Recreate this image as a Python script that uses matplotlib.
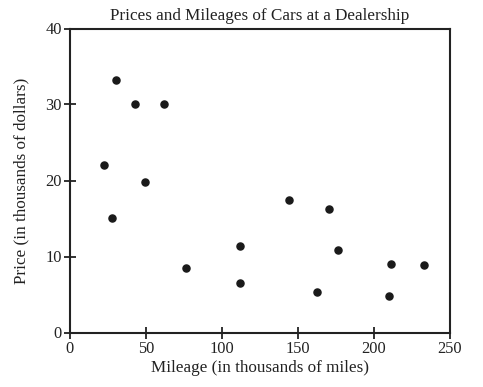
import matplotlib
matplotlib.use("Agg")
import matplotlib.pyplot as plt

mileage = [30.0, 42.5, 61.8, 22.4, 49.3, 27.4, 76.3, 112.1, 111.6,
           144.3, 170.2, 176.5, 162.3, 211.4, 210.1, 232.7]
price = [33.2, 30.1, 30.0, 22.0, 19.8, 15.1, 8.5, 11.4, 6.5,
         17.5, 16.2, 10.9, 5.3, 9.0, 4.8, 8.9]
xticks = [0, 50, 100, 150, 200, 250]
yticks = [0, 10, 20, 30, 40]

plt.rcParams['font.family'] = ['Liberation Serif', 'DejaVu Serif']

fig = plt.figure(figsize=(4.83, 3.87), dpi=100)
ax = fig.add_axes([70/483, 1-332.5/387, 380/483, 304/387])
ax.scatter(mileage, price, s=26, color='#1a1a1a', zorder=3)
ax.set_xlim(0, 250)
ax.set_ylim(0, 40)
ax.set_xticks(xticks)
ax.set_yticks(yticks)
ax.tick_params(direction='inout', length=8, width=1.3, labelsize=11.8, colors='#222', pad=2)
for s in ax.spines.values():
    s.set_linewidth(1.5)
    s.set_color('#222')
ax.set_xlabel('Mileage (in thousands of miles)', fontsize=12.3, labelpad=2, color='#222')
ax.set_ylabel('Price (in thousands of dollars)', fontsize=12.3, labelpad=11, color='#222')
ax.set_title('Prices and Mileages of Cars at a Dealership', fontsize=12.3, pad=6, color='#222')
fig.savefig('out.png', dpi=100)
